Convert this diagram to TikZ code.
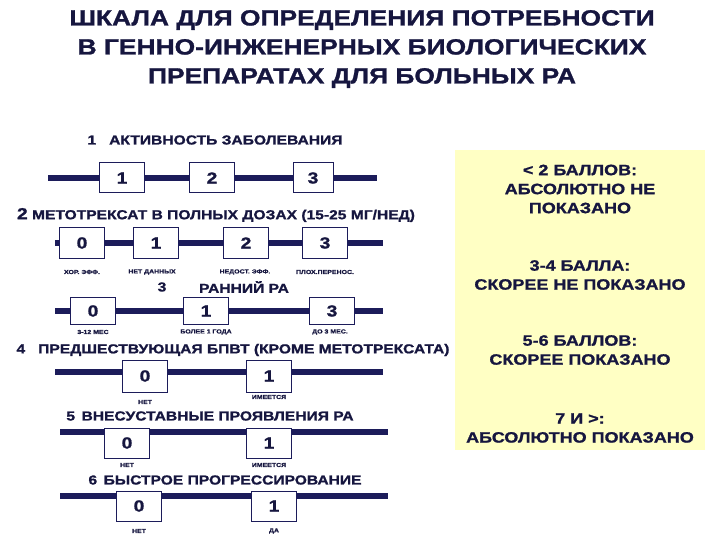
\documentclass[tikz,border=0pt]{standalone}
\usepackage{fontspec}
\setmainfont{Liberation Sans}[FakeStretch=1.2,BoldFeatures={FakeBold=1.2}]
\begin{document}
\begin{tikzpicture}[x=1pt,y=-1pt,
  every node/.style={font=\bfseries,text=ink,inner sep=0pt},
  bar/.style={draw=navy,line width=6pt},
  box/.style={draw=navy,fill=white,line width=1pt,minimum width=45pt,minimum height=30pt,font=\bfseries\fontsize{16}{16}\selectfont},
  head/.style={font=\bfseries\fontsize{13}{13}\selectfont},
  small/.style={font=\bfseries\fontsize{5.8}{6}\selectfont},
  verdict/.style={font=\bfseries\fontsize{15}{19}\selectfont,align=center}]
\definecolor{ink}{HTML}{16163F}
\definecolor{navy}{HTML}{1C1C5A}
\definecolor{pale}{HTML}{FFFFC4}
\useasboundingbox (0,0) rectangle (720,540);
\fill[white] (0,0) rectangle (720,540);
\node[font=\bfseries\fontsize{22}{29}\selectfont,align=center] (title) at (362,49) {ШКАЛА ДЛЯ ОПРЕДЕЛЕНИЯ ПОТРЕБНОСТИ\\В ГЕННО-ИНЖЕНЕРНЫХ БИОЛОГИЧЕСКИХ\\ПРЕПАРАТАХ ДЛЯ БОЛЬНЫХ РА};
% panel
\node[fill=pale,minimum width=250pt,minimum height=300pt] (panel) at (580,300) {};
\node[verdict] (v1) at (580,189) {< 2 БАЛЛОВ:\\АБСОЛЮТНО НЕ\\ПОКАЗАНО};
\node[verdict] (v2) at (580,275) {3-4 БАЛЛА:\\СКОРЕЕ НЕ ПОКАЗАНО};
\node[verdict] (v3) at (580,350) {5-6 БАЛЛОВ:\\СКОРЕЕ ПОКАЗАНО};
\node[verdict] (v4) at (580,428) {7 И >:\\АБСОЛЮТНО ПОКАЗАНО};
% row 1
\node[head] (h1) at (215,140) {1\quad АКТИВНОСТЬ ЗАБОЛЕВАНИЯ};
\coordinate (a0) at (48,178); \coordinate (a9) at (377,178);
\draw[bar] (a0) -- (a9);
\node[box] (a1) at (122,178) {1};
\node[box] (a2) at (212,178) {2};
\node[box,minimum width=40pt] (a3) at (313,178) {3};
% row 2
\node[head] (h2) at (216,215) {{\fontsize{16}{16}\selectfont 2} МЕТОТРЕКСАТ В ПОЛНЫХ ДОЗАХ (15-25 МГ/НЕД)};
\coordinate (b0) at (55,243); \coordinate (b9) at (383,243);
\draw[bar] (b0) -- (b9);
\node[box] (b1) at (82,243) {0};
\node[box] (b2) at (156,243) {1};
\node[box] (b3) at (246,243) {2};
\node[box] (b4) at (325,243) {3};
\node[small] (l21) at (82,272) {ХОР. ЭФФ.};
\node[small] (l22) at (152,272) {НЕТ ДАННЫХ};
\node[small] (l23) at (245,272) {НЕДОСТ. ЭФФ.};
\node[small] (l24) at (325,272) {ПЛОХ.ПЕРЕНОС.};
% row 3
\node[head] (h3n) at (162,287) {3};
\node[head] (h3) at (244,287) {РАННИЙ РА};
\coordinate (c0) at (55,311); \coordinate (c9) at (383,311);
\draw[bar] (c0) -- (c9);
\node[box,minimum height=27pt] (c1) at (93,311) {0};
\node[box,minimum height=27pt] (c2) at (206,311) {1};
\node[box,minimum height=27pt] (c3) at (332,311) {3};
\node[small] (l31) at (93,332) {3-12 МЕС};
\node[small] (l32) at (206,332) {БОЛЕЕ 1 ГОДА};
\node[small] (l33) at (330,332) {ДО 3 МЕС.};
% row 4
\node[head] (h4) at (233,350) {4\quad ПРЕДШЕСТВУЮЩАЯ БПВТ (КРОМЕ МЕТОТРЕКСАТА)};
\coordinate (d0) at (55,372); \coordinate (d9) at (383,372);
\draw[bar] (d0) -- (d9);
\node[box,minimum height=32pt] (d1) at (145,376) {0};
\node[box,minimum height=32pt] (d2) at (269,376) {1};
\node[small] (l41) at (145,402) {НЕТ};
\node[small] (l42) at (269,397) {ИМЕЕТСЯ};
% row 5
\node[head] (h5) at (210,416) {5\enspace ВНЕСУСТАВНЫЕ ПРОЯВЛЕНИЯ РА};
\coordinate (e0) at (60,432); \coordinate (e9) at (388,432);
\draw[bar] (e0) -- (e9);
\node[box] (e1) at (127,443) {0};
\node[box] (e2) at (269,443) {1};
\node[small] (l51) at (127,465) {НЕТ};
\node[small] (l52) at (269,465) {ИМЕЕТСЯ};
% row 6
\node[head] (h6) at (225,480) {6\enspace БЫСТРОЕ ПРОГРЕССИРОВАНИЕ};
\coordinate (f0) at (60,496); \coordinate (f9) at (388,496);
\draw[bar] (f0) -- (f9);
\node[box] (f1) at (139,506) {0};
\node[box] (f2) at (274,506) {1};
\node[small] (l61) at (139,531) {НЕТ};
\node[small] (l62) at (274,531) {ДА};
\end{tikzpicture}
\end{document}
